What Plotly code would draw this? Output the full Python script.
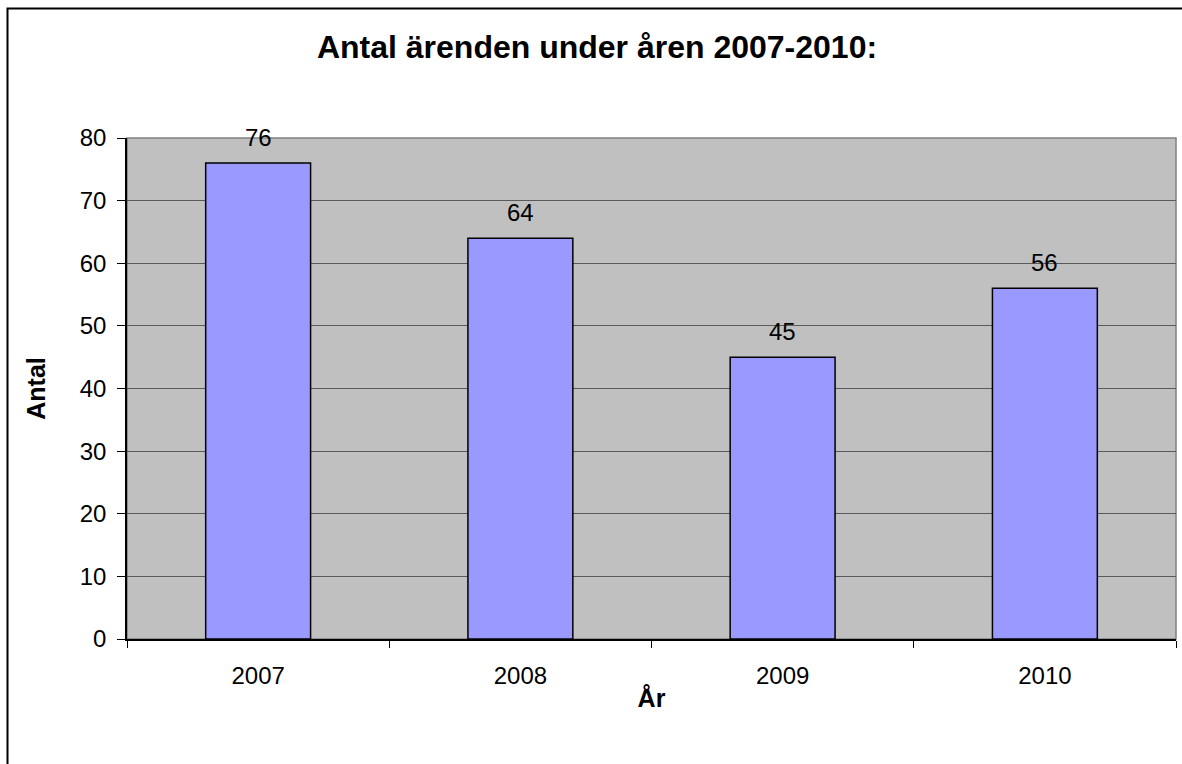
import plotly.graph_objects as go

years = ["2007", "2008", "2009", "2010"]
counts = [76, 64, 45, 56]
y_ticks = [0, 10, 20, 30, 40, 50, 60, 70, 80]

title_text = "Antal ärenden under åren 2007-2010:"
x_title = "År"
y_title = "Antal"

W, H = 1182, 764
L, R, T, B = 127, 6, 138, 125
pw = W - L - R
ph = H - T - B
FONT = "Liberation Sans, Arial, sans-serif"

fig = go.Figure()
fig.add_trace(go.Bar(
    x=list(range(len(years))), y=counts, width=0.4,
    marker=dict(color="#9999FF", line=dict(color="#000000", width=1.5)),
    showlegend=False, hoverinfo="y",
))

for i, c in enumerate(counts):
    fig.add_annotation(x=i, y=c, text=str(c), showarrow=False,
                       yanchor="middle", yshift=26,
                       font=dict(family=FONT, size=24, color="#000000"))

# plot area border (grey)
fig.add_shape(type="rect", xref="paper", yref="paper", x0=0, y0=0, x1=1, y1=1,
              line=dict(color="#808080", width=1.5), layer="below")
# outer chart border
fig.add_shape(type="rect", xref="paper", yref="paper",
              x0=(7.5 - L) / pw, y0=-(B + 30) / ph,
              x1=(W + 30 - L) / pw, y1=(ph + T - 8.5) / ph,
              line=dict(color="#000000", width=2), fillcolor="rgba(0,0,0,0)")

fig.update_layout(
    width=W, height=H,
    margin=dict(l=L, r=R, t=T, b=B, autoexpand=False),
    paper_bgcolor="#FFFFFF", plot_bgcolor="#C0C0C0",
    font=dict(family=FONT, size=24, color="#000000"),
    title=dict(text="<b>" + title_text + "</b>", x=597 / W, xanchor="center",
               y=1 - 47 / H, yanchor="middle", yref="container",
               font=dict(size=32, family=FONT, color="#000000")),
)
fig.update_xaxes(
    range=[-0.5, len(years) - 0.5],
    tickmode="array", tickvals=list(range(len(years))), ticktext=years,
    ticks="", showgrid=False, showline=True, linecolor="#000000",
    linewidth=1.5, tickfont=dict(size=24), ticklabelstandoff=14,
    title=dict(text="<b>" + x_title + "</b>", standoff=2, font=dict(size=25)),
    zeroline=False,
)
# category boundary ticks via minor ticks
fig.update_xaxes(minor=dict(tickmode="array",
                            tickvals=[i - 0.5 for i in range(len(years) + 1)],
                            ticks="outside", ticklen=7, tickcolor="#000000",
                            tickwidth=1, showgrid=False))
fig.update_yaxes(
    range=[0, 80], tickvals=y_ticks, ticks="outside", ticklen=8, tickcolor="#000000",
    showgrid=True, gridcolor="#5A5A5A", gridwidth=1, showline=True,
    linecolor="#000000", linewidth=1.5, zeroline=False, tickfont=dict(size=24),
    ticklabelstandoff=6,
    title=dict(text="<b>" + y_title + "</b>", standoff=27, font=dict(size=25)),
)

fig.write_html("out.html", config={"displayModeBar": False},
               post_script="document.body.style.margin='0px';")
